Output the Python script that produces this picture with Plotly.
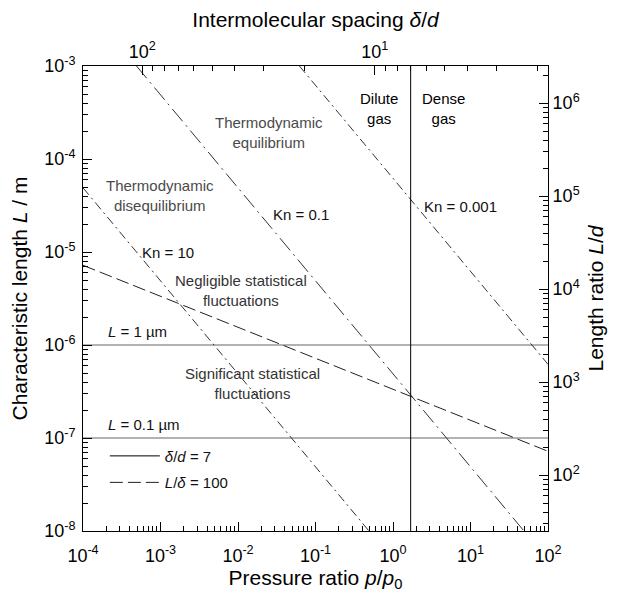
import numpy as np
import plotly.graph_objects as go

# ---------------- data ----------------
p_ticks = [1e-4, 1e-3, 1e-2, 1e-1, 1e0, 1e1, 1e2]
p_ticktext = ["10<sup>-4</sup>", "10<sup>-3</sup>", "10<sup>-2</sup>", "10<sup>-1</sup>",
              "10<sup>0</sup>", "10<sup>1</sup>", "10<sup>2</sup>"]
L_ticks = [1e-8, 1e-7, 1e-6, 1e-5, 1e-4, 1e-3]
L_ticktext = ["10<sup>-8</sup>", "10<sup>-7</sup>", "10<sup>-6</sup>", "10<sup>-5</sup>",
              "10<sup>-4</sup>", "10<sup>-3</sup>"]
Ld_ticks = [1e2, 1e3, 1e4, 1e5, 1e6]
Ld_ticktext = ["10<sup>2</sup>", "10<sup>3</sup>", "10<sup>4</sup>", "10<sup>5</sup>", "10<sup>6</sup>"]
dd_ticks = [1e1, 1e2]
dd_ticktext = ["10<sup>1</sup>", "10<sup>2</sup>"]

p_range = [1e-4, 1e2]
L_range = [1e-8, 1e-3]
d_molecule = 4.0e-10        # molecular diameter (m) for the L/d axis
delta_d_at_p0 = 8.35        # intermolecular spacing δ/d at p/p0 = 1

# constant-Knudsen lines (end points)
kn10_p = [1e-4, 0.49]
kn10_L = [4.9e-5, 1e-8]
kn01_p = [4.9e-4, 49.0]
kn01_L = [1e-3, 1e-8]
kn0001_p = [0.062, 100.0]
kn0001_L = [1e-3, 6.2e-7]
# L/δ = 100
ldelta_p = [1e-4, 100.0]
ldelta_L = [7.2e-6, 7.2e-8]
# δ/d = 7
dd7_p = [1.69, 1.69]
dd7_L = [1e-8, 1e-3]
# L = 1 µm and L = 0.1 µm
um1_p = [1e-4, 1e2]
um1_L = [1e-6, 1e-6]
um01_p = [1e-4, 1e2]
um01_L = [1e-7, 1e-7]

# labels: (text, p, L, anchor, colour)
labels = [
    ("Thermodynamic<br>equilibrium", 0.0249, 1.94e-4, "center", "#4a4a4a"),
    ("Thermodynamic<br>disequilibrium", 9.8e-4, 4.1e-5, "center", "#4a4a4a"),
    ("Kn = 0.1", 0.0653, 2.55e-5, "center", "#111111"),
    ("Kn = 10", 1.24e-3, 1.0e-5, "center", "#111111"),
    ("Negligible statistical<br>fluctuations", 0.0108, 3.9e-6, "center", "#333333"),
    ("<i>L</i> = 1 µm", 2.0e-4, 1.39e-6, "left", "#111111"),
    ("Significant statistical<br>fluctuations", 0.0152, 3.81e-7, "center", "#333333"),
    ("<i>L</i> = 0.1 µm", 2.0e-4, 1.38e-7, "left", "#111111"),
    ("Dilute<br>gas", 0.653, 3.45e-4, "center", "#000000"),
    ("Dense<br>gas", 4.47, 3.45e-4, "center", "#000000"),
    ("Kn = 0.001", 7.43, 3.06e-5, "center", "#111111"),
]

# ---------------- figure ----------------
FONT = "Liberation Sans, Arial, Helvetica, sans-serif"
fig = go.Figure()

for px, Ly in [(um1_p, um1_L), (um01_p, um01_L)]:
    fig.add_trace(go.Scatter(x=px, y=Ly, mode="lines", line=dict(color="#999999", width=1.5),
                             showlegend=False, hoverinfo="skip"))

fig.add_trace(go.Scatter(x=kn10_p, y=kn10_L, mode="lines",
                         line=dict(color="#333333", width=1, dash="9px,4px,2px,4px"),
                         showlegend=False, hoverinfo="skip"))
fig.add_trace(go.Scatter(x=kn01_p, y=kn01_L, mode="lines",
                         line=dict(color="#333333", width=1, dash="16px,5px,2px,5px"),
                         showlegend=False, hoverinfo="skip"))
fig.add_trace(go.Scatter(x=kn0001_p, y=kn0001_L, mode="lines",
                         line=dict(color="#333333", width=1, dash="9px,4px,2px,4px"),
                         showlegend=False, hoverinfo="skip"))

fig.add_trace(go.Scatter(x=dd7_p, y=dd7_L, mode="lines", name="<i>δ</i>/<i>d</i> = 7",
                         legendgroup="a", line=dict(color="#000000", width=1), hoverinfo="skip"))
fig.add_trace(go.Scatter(x=ldelta_p, y=ldelta_L, mode="lines", name="<i>L</i>/<i>δ</i> = 100",
                         legendgroup="b",
                         line=dict(color="#222222", width=1, dash="13px,5px"), hoverinfo="skip"))

# secondary axes (top: δ/d, right: L/d)
dd_left = delta_d_at_p0 * p_range[0] ** (-1.0 / 3.0)
dd_right = delta_d_at_p0 * p_range[1] ** (-1.0 / 3.0)
Ld_low = L_range[0] / d_molecule
Ld_high = L_range[1] / d_molecule

hidden = dict(mode="lines", line=dict(width=0), opacity=0, showlegend=False, hoverinfo="skip")
fig.add_trace(go.Scatter(x=[dd_left, dd_right], y=L_range, xaxis="x2", yaxis="y", **hidden))
fig.add_trace(go.Scatter(x=p_range, y=[Ld_low, Ld_high], xaxis="x", yaxis="y2", **hidden))
fig.add_trace(go.Scatter(x=p_range, y=L_range, xaxis="x3", yaxis="y", **hidden))
fig.add_trace(go.Scatter(x=p_range, y=L_range, xaxis="x", yaxis="y3", **hidden))
fig.add_trace(go.Scatter(x=[dd_left, dd_right], y=L_range, xaxis="x4", yaxis="y", **hidden))
fig.add_trace(go.Scatter(x=p_range, y=[Ld_low, Ld_high], xaxis="x", yaxis="y4", **hidden))


def minor_vals(lo_exp, hi_exp):
    return [m * 10.0 ** e for e in range(lo_exp, hi_exp + 1) for m in range(2, 10)]


common = dict(type="log", showgrid=False, zeroline=False, showline=True, linecolor="black",
              linewidth=1, ticks="inside", ticklen=9, tickwidth=1, tickcolor="black",
              tickmode="array", tickfont=dict(size=18, color="black", family=FONT))
minor_ax = dict(type="log", showgrid=False, zeroline=False, showline=False,
                ticks="inside", ticklen=5, tickwidth=1, tickcolor="black",
                tickmode="array", showticklabels=False)

p_log = [np.log10(p_range[0]), np.log10(p_range[1])]
L_log = [np.log10(L_range[0]), np.log10(L_range[1])]
dd_log = [np.log10(dd_left), np.log10(dd_right)]
Ld_log = [np.log10(Ld_low), np.log10(Ld_high)]

# the page body has an 8 px margin; the figure is sized so it fills the 617x600 window
fig.update_layout(
    width=601, height=584,
    margin=dict(l=75, r=61, t=58, b=61, autoexpand=False),
    paper_bgcolor="white", plot_bgcolor="white",
    font=dict(family=FONT, color="black"),
    showlegend=True,
    legend=dict(x=0.047, y=0.1965, xanchor="left", yanchor="top", bgcolor="rgba(0,0,0,0)",
                font=dict(size=15, family=FONT, color="#111111"), itemwidth=50,
                traceorder="grouped", tracegroupgap=4),
    xaxis=dict(**common, range=p_log, tickvals=p_ticks, ticktext=p_ticktext,
               ticklabelstandoff=8,
               title=dict(text="Pressure ratio <i>p</i>/<i>p</i><sub>0</sub>",
                          font=dict(size=21, family=FONT), standoff=8)),
    yaxis=dict(**common, range=L_log, tickvals=L_ticks, ticktext=L_ticktext,
               ticklabelstandoff=3,
               title=dict(text="Characteristic length <i>L</i> / m",
                          font=dict(size=21, family=FONT), standoff=15)),
    xaxis2=dict(**common, overlaying="x", side="top", anchor="y", range=dd_log,
                tickvals=dd_ticks, ticktext=dd_ticktext,
                title=dict(text="Intermolecular spacing <i>δ</i>/<i>d</i>",
                           font=dict(size=21, family=FONT), standoff=5)),
    yaxis2=dict(**common, overlaying="y", side="right", anchor="x", range=Ld_log,
                tickvals=Ld_ticks, ticktext=Ld_ticktext,
                title=dict(text="Length ratio <i>L</i>/<i>d</i>",
                           font=dict(size=21, family=FONT), standoff=9)),
    xaxis3=dict(**minor_ax, overlaying="x", side="bottom", anchor="y", range=p_log,
                tickvals=minor_vals(-4, 1)),
    yaxis3=dict(**minor_ax, overlaying="y", side="left", anchor="x", range=L_log,
                tickvals=minor_vals(-8, -4)),
    xaxis4=dict(**minor_ax, overlaying="x", side="top", anchor="y", range=dd_log,
                tickvals=minor_vals(0, 2)),
    yaxis4=dict(**minor_ax, overlaying="y", side="right", anchor="x", range=Ld_log,
                tickvals=minor_vals(1, 6)),
)

for text, px, Ly, anchor, col in labels:
    fig.add_annotation(x=np.log10(px), y=np.log10(Ly), xref="x", yref="y", text=text,
                       showarrow=False, xanchor=anchor, yanchor="middle", align="center",
                       font=dict(size=15, family=FONT, color=col))

fig.write_html("out.html")
